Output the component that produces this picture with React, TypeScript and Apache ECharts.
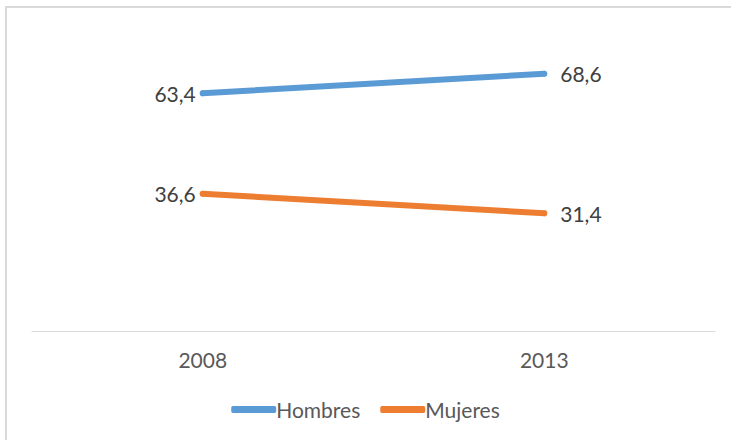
import React, { useEffect, useRef } from "react";
import * as echarts from "echarts";

const categories = ["2008", "2013"];
const hombres = [63.4, 68.6];
const mujeres = [36.6, 31.4];
const seriesNames = ["Hombres", "Mujeres"];
const colors = ["#5B9BD5", "#ED7D31"];

const FONT = "Lato, 'Open Sans', sans-serif";

function fmt(v: number) {
  return v.toFixed(1).replace(".", ",");
}

function buildData(vals: number[]) {
  return vals.map((v, i) => ({
    value: v,
    label: {
      show: true,
      position: i === 0 ? "left" : "right",
      distance: i === 0 ? 4 : 13,
      formatter: () => fmt(v),
      fontSize: 21,
      color: "#404040",
      fontFamily: FONT,
    },
  }));
}

export default function App() {
  const ref = useRef<HTMLDivElement>(null);
  useEffect(() => {
    document.body.style.margin = "0";
    const chart = echarts.init(ref.current!, null, { renderer: "svg" });
    chart.setOption({
      animation: false,
      backgroundColor: "#ffffff",
      grid: { left: 32, right: 16, top: 31, bottom: 109, containLabel: false },
      graphic: [
        { type: "line", shape: { x1: 6, y1: 7, x2: 6, y2: 440 }, style: { stroke: "#d9d9d9", lineWidth: 2 } },
        { type: "line", shape: { x1: 5, y1: 7, x2: 731, y2: 7 }, style: { stroke: "#d9d9d9", lineWidth: 2 } },
      ],
      xAxis: {
        type: "category",
        data: categories,
        boundaryGap: true,
        axisLine: { show: true, lineStyle: { color: "#d9d9d9", width: 1 } },
        axisTick: { show: false },
        axisLabel: { fontSize: 21, color: "#595959", fontFamily: FONT, margin: 18 },
      },
      yAxis: {
        type: "value",
        min: 0,
        max: 80,
        interval: 10,
        show: false,
        splitLine: { show: false },
      },
      legend: {
        bottom: 15,
        left: "center",
        itemWidth: 45,
        itemHeight: 7,
        itemGap: 20,
        icon: "roundRect",
        textStyle: { fontSize: 21, color: "#595959", fontFamily: FONT, padding: [0, 0, 0, -5] },
        data: seriesNames,
      },
      series: [
        {
          name: seriesNames[0],
          type: "line",
          data: buildData(hombres),
          symbol: "circle",
          symbolSize: 6,
          showSymbol: true,
          lineStyle: { width: 6, color: colors[0], cap: "round" },
          itemStyle: { color: colors[0] },
        },
        {
          name: seriesNames[1],
          type: "line",
          data: buildData(mujeres),
          symbol: "circle",
          symbolSize: 6,
          showSymbol: true,
          lineStyle: { width: 6, color: colors[1], cap: "round" },
          itemStyle: { color: colors[1] },
        },
      ],
    });
    return () => chart.dispose();
  }, []);
  return <div ref={ref} style={{ position: "absolute", left: 0, top: 0, width: 731, height: 440 }} />;
}
